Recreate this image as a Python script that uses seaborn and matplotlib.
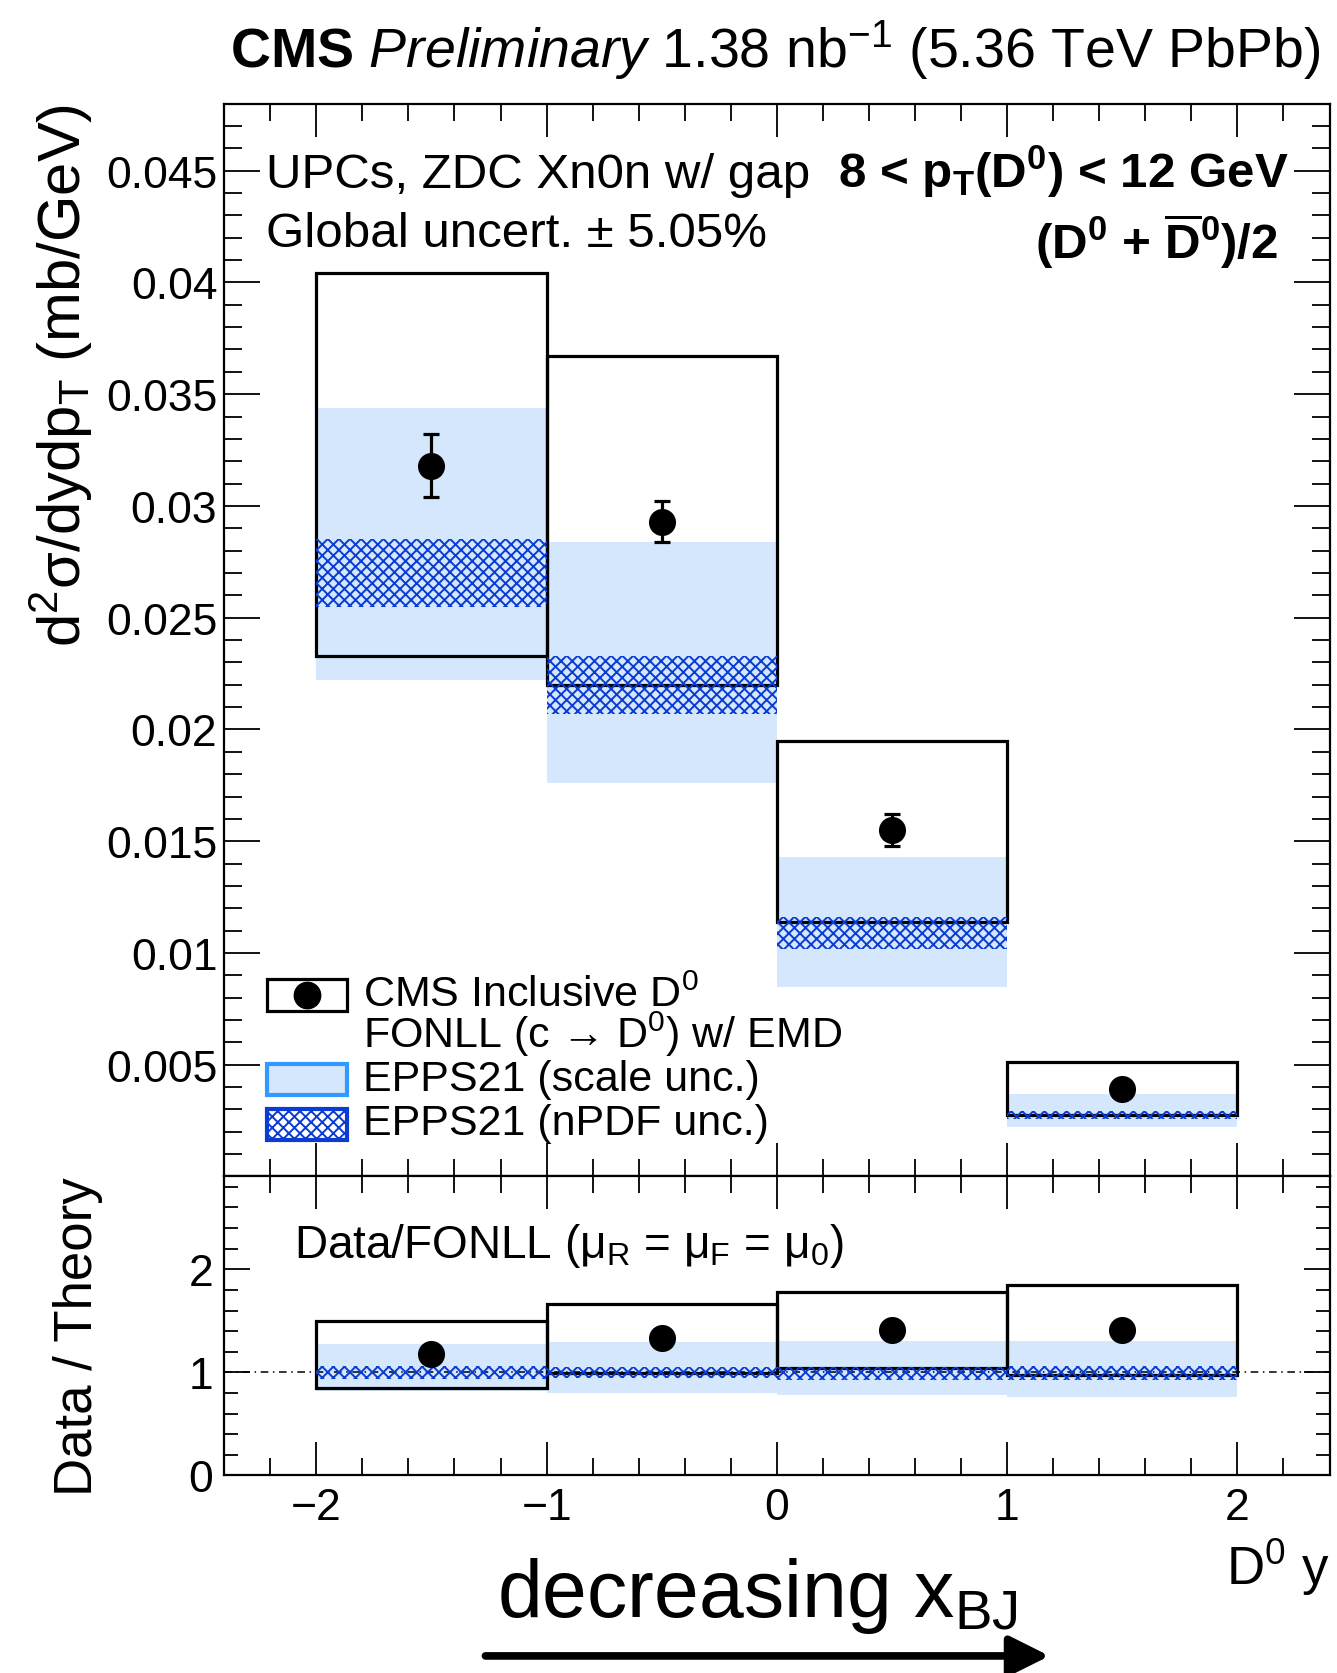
import matplotlib
matplotlib.use("Agg")
import matplotlib.pyplot as plt
import seaborn as sns
import numpy as np
import pandas as pd
from matplotlib.patches import Rectangle, FancyArrowPatch
from matplotlib.ticker import MultipleLocator, FuncFormatter

sns.set_theme(style="ticks")
plt.rcParams["font.family"] = ["Liberation Sans", "DejaVu Sans"]
plt.rcParams["mathtext.fontset"] = "custom"
plt.rcParams["mathtext.rm"] = "Liberation Sans"
plt.rcParams["mathtext.it"] = "Liberation Sans:italic"
plt.rcParams["mathtext.bf"] = "Liberation Sans:bold"
plt.rcParams["hatch.linewidth"] = 1.4
for k in ["text.color", "axes.labelcolor", "xtick.color", "ytick.color", "axes.edgecolor"]:
    plt.rcParams[k] = "black"

# rapidity bins
y_lo = [-2, -1, 0, 1]
y_hi = [-1, 0, 1, 2]
y_mid = [-1.5, -0.5, 0.5, 1.5]

# d2sigma/dydpT (mb/GeV), 8 < pT < 12 GeV
xsec = [0.0318, 0.0293, 0.0155, 0.0039]
xsec_stat = [0.0014, 0.0009, 0.0007, 0.0003]
xsec_syst_lo = [0.0233, 0.0220, 0.0114, 0.00275]
xsec_syst_hi = [0.0404, 0.0367, 0.0195, 0.00514]
# FONLL EPPS21 predictions
scale_lo = [0.0222, 0.0176, 0.0085, 0.0022]
scale_hi = [0.0344, 0.0284, 0.0143, 0.0037]
npdf_lo = [0.0255, 0.0207, 0.0102, 0.00256]
npdf_hi = [0.0285, 0.0233, 0.0116, 0.00294]

# data / FONLL
ratio = [1.18, 1.33, 1.41, 1.41]
ratio_syst_lo = [0.85, 0.99, 1.04, 0.97]
ratio_syst_hi = [1.50, 1.66, 1.78, 1.85]
ratio_scale_lo = [0.82, 0.80, 0.78, 0.76]
ratio_scale_hi = [1.28, 1.29, 1.30, 1.30]
ratio_npdf_lo = [0.94, 0.95, 0.93, 0.93]
ratio_npdf_hi = [1.06, 1.05, 1.05, 1.06]

band_col = "#d4e7fc"
hatch_col = "#0a3cd4"
hatch = "xxx"

df = pd.DataFrame({"y": y_mid, "xsec": xsec, "ratio": ratio})
width = np.subtract(y_hi, y_lo)

fig = plt.figure(figsize=(13.37, 16.74), dpi=100)
ax = fig.add_axes([0.1677, 0.2966, 0.8267, 0.6409])
axr = fig.add_axes([0.1677, 0.118, 0.8267, 0.1786])


def draw_panel(a, val_col, s_lo, s_hi, n_lo, n_hi, b_lo, b_hi):
    a.bar(y_mid, np.subtract(s_hi, s_lo), bottom=s_lo, width=width,
          color=band_col, linewidth=0, zorder=1)
    a.bar(y_mid, np.subtract(b_hi, b_lo), bottom=b_lo, width=width,
          fill=False, edgecolor="black", linewidth=2.3, zorder=2)
    a.bar(y_mid, np.subtract(n_hi, n_lo), bottom=n_lo, width=width,
          facecolor="none", edgecolor=hatch_col, hatch=hatch, linewidth=0, zorder=3)
    sns.scatterplot(data=df, x="y", y=val_col, ax=a, color="black", s=380,
                    edgecolor="black", linewidth=0, zorder=5, legend=False)


draw_panel(ax, "xsec", scale_lo, scale_hi, npdf_lo, npdf_hi, xsec_syst_lo, xsec_syst_hi)
ax.errorbar(y_mid, xsec, yerr=xsec_stat, fmt="none", ecolor="black",
            elinewidth=2.3, capsize=6, capthick=2.3, zorder=4)

draw_panel(axr, "ratio", ratio_scale_lo, ratio_scale_hi, ratio_npdf_lo, ratio_npdf_hi,
           ratio_syst_lo, ratio_syst_hi)
axr.axhline(1, color="black", linewidth=1.1, linestyle=(0, (5, 3, 1, 3)), zorder=2.5)

# axes styling
for a in (ax, axr):
    a.set_xlim(-2.4, 2.4)
    a.set_xlabel("")
    a.set_ylabel("")
    for sp in a.spines.values():
        sp.set_linewidth(1.6)
        sp.set_visible(True)
    a.xaxis.set_major_locator(MultipleLocator(1))
    a.xaxis.set_minor_locator(MultipleLocator(0.2))
    a.tick_params(which="both", direction="in", top=True, right=True,
                  bottom=True, left=True, width=1.3, colors="black", labelsize=32)
    a.tick_params(axis="x", which="major", length=24)
    a.tick_params(axis="x", which="minor", length=12)

ax.set_ylim(0, 0.048)
ax.yaxis.set_major_locator(MultipleLocator(0.005))
ax.yaxis.set_minor_locator(MultipleLocator(0.001))
ax.yaxis.set_major_formatter(FuncFormatter(lambda v, p: "" if v == 0 else f"{v:g}"))
ax.tick_params(axis="y", which="major", length=26, pad=5)
ax.tick_params(axis="y", which="minor", length=13)
ax.tick_params(axis="x", labelbottom=False)

axr.set_ylim(0, 2.9)
axr.yaxis.set_major_locator(MultipleLocator(1))
axr.yaxis.set_minor_locator(MultipleLocator(0.2))
axr.tick_params(axis="y", which="major", length=19, pad=8)
axr.tick_params(axis="y", which="minor", length=10)
axr.tick_params(axis="x", which="major", pad=8)

# texts in main panel
ax.text(0.0377, 0.9224, "UPCs, ZDC Xn0n w/ gap", transform=ax.transAxes,
        fontsize=35.5, va="baseline", ha="left")
ax.text(0.0377, 0.8677, "Global uncert. ± 5.05%", transform=ax.transAxes,
        fontsize=35.5, va="baseline", ha="left")
ax.text(0.9633, 0.9224, r"8 < p$_{\mathbf{T}}$(D$^{\mathbf{0}}$) < 12 GeV",
        transform=ax.transAxes, fontsize=35.5, fontweight="bold", va="baseline", ha="right")
ax.text(0.9536, 0.8557, r"(D$^{\mathbf{0}}$ + $\overline{\mathbf{D}}^{\mathbf{0}}$)/2",
        transform=ax.transAxes, fontsize=35.5, fontweight="bold", va="baseline", ha="right")

# legend drawn by hand
lx, lw_, lh = 0.0386, 0.0725, 0.029
rows = [0.1692, 0.1353, 0.0900, 0.0488]
base = [0.1592, 0.1204, 0.0806, 0.0398]
ax.add_patch(Rectangle((lx, rows[0] - lh / 2), lw_, lh, transform=ax.transAxes,
                       fill=False, edgecolor="black", linewidth=2.3, zorder=6))
ax.plot([lx + lw_ / 2], [rows[0]], "o", color="black", ms=19,
        transform=ax.transAxes, zorder=7)
ax.add_patch(Rectangle((lx, rows[2] - lh / 2), lw_, lh, transform=ax.transAxes,
                       facecolor=band_col, edgecolor="#3399ff", linewidth=3, zorder=6))
ax.add_patch(Rectangle((lx, rows[3] - lh / 2), lw_, lh, transform=ax.transAxes,
                       facecolor="white", edgecolor=hatch_col, hatch=hatch,
                       linewidth=3, zorder=6))
labels = [r"CMS Inclusive D$^{0}$", r"FONLL (c → D$^{0}$) w/ EMD",
          "EPPS21 (scale unc.)", "EPPS21 (nPDF unc.)"]
for b, lab in zip(base, labels):
    ax.text(0.1256, b, lab, transform=ax.transAxes, fontsize=31,
            va="baseline", ha="left", zorder=7)

axr.text(0.0628, 0.732, r"Data/FONLL (μ$_{\mathrm{R}}$ = μ$_{\mathrm{F}}$ = μ$_{\mathrm{0}}$)",
         transform=axr.transAxes, fontsize=33, va="baseline", ha="left")

# figure level labels
fig.text(0.988, 0.970, r"$\mathbf{CMS}$ $\mathit{Preliminary}$ 1.38 nb$^{-1}$ (5.36 TeV PbPb)",
         fontsize=40, ha="right", va="center")
fig.text(0.046, 0.9381, r"d$^{2}$σ/dydp$_{\mathrm{T}}$ (mb/GeV)", fontsize=43,
         rotation=90, ha="center", va="top")
fig.text(0.058, 0.2966, "Data / Theory", fontsize=38, rotation=90,
         ha="center", va="top")
fig.text(0.994, 0.0638, r"D$^{0}$ y", fontsize=38, ha="right", va="center")
fig.text(0.5665, 0.0463, r"decreasing x$_{\mathrm{BJ}}$", fontsize=58,
         ha="center", va="center")
fig.add_artist(FancyArrowPatch(
    (0.361, 0.0102), (0.787, 0.0102), transform=fig.transFigure,
    arrowstyle="-|>,head_length=0.6,head_width=0.3", mutation_scale=40,
    linewidth=5.5, color="black"))

fig.savefig("out.png", dpi=100)
